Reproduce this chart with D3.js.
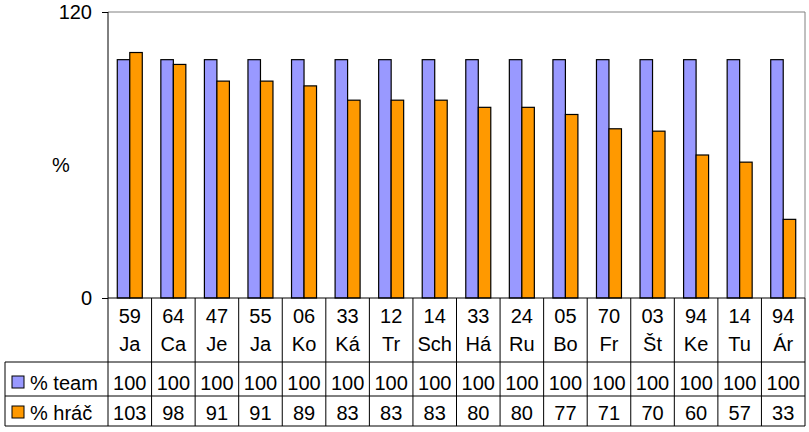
<!DOCTYPE html>
<html>
<head>
<meta charset="utf-8">
<script src="https://cdn.jsdelivr.net/npm/d3@7"></script>
<style>
  body { margin: 0; background: #fff; }
  svg { display: block; font-family: 'Liberation Sans', Arial, sans-serif; }
</style>
</head>
<body>
<svg width="809" height="432"></svg>
<script>
const numbers = ['59', '64', '47', '55', '06', '33', '12', '14', '33', '24', '05', '70', '03', '94', '14', '94'];
const names = ['Ja', 'Ca', 'Je', 'Ja', 'Ko', 'Ká', 'Tr', 'Sch', 'Há', 'Ru', 'Bo', 'Fr', 'Št', 'Ke', 'Tu', 'Ár'];
const teamValues = [100, 100, 100, 100, 100, 100, 100, 100, 100, 100, 100, 100, 100, 100, 100, 100];
const playerValues = [103, 98, 91, 91, 89, 83, 83, 83, 80, 80, 77, 71, 70, 60, 57, 33];
const seriesNames = ['% team', '% hráč'];
const seriesColors = ['#9999ff', '#ff9900'];
const yTicks = [0, 120];

const categories = numbers.map((n, i) => i);
const series = [teamValues, playerValues];

const plotLeft = 108, plotRight = 805, plotTop = 12, plotBottom = 298;
const tableLeft = 5;
const catRowBottom = 362;
const rowBottoms = [396, 426];

const svg = d3.select('svg');

const xScale = d3.scaleBand().domain(categories).range([plotLeft, plotRight]);
const inner = d3.scaleBand().domain([0, 1]).range([0, 25]);
const yScale = d3.scaleLinear().domain([0, 120]).range([plotBottom, plotTop]);

// frame: gray top and right
svg.append('line').attr('x1', plotLeft).attr('x2', plotRight).attr('y1', plotTop).attr('y2', plotTop)
  .attr('stroke', '#808080');
svg.append('line').attr('x1', plotRight).attr('x2', plotRight).attr('y1', plotTop).attr('y2', plotBottom)
  .attr('stroke', '#808080');

// bars
series.forEach((vals, s) => {
  svg.append('g')
    .selectAll('rect')
    .data(vals)
    .enter()
    .append('rect')
    .attr('x', (d, i) => xScale(i) + (xScale.bandwidth() - 25) / 2 + inner(s))
    .attr('y', (d) => yScale(d))
    .attr('width', inner.bandwidth())
    .attr('height', (d) => plotBottom - yScale(d))
    .attr('fill', seriesColors[s])
    .attr('stroke', '#000')
    .attr('stroke-width', 1.2);
});

// y axis
const yAxis = d3.axisLeft(yScale).tickValues(yTicks).tickSize(6).tickPadding(10);
const ya = svg.append('g').attr('transform', `translate(${plotLeft},0)`).call(yAxis);
ya.select('.domain').remove();
ya.selectAll('.tick line').attr('stroke', '#000');
ya.selectAll('.tick text').attr('font-size', 20).attr('font-family', 'Liberation Sans, Arial, sans-serif')
  .attr('fill', '#000');
svg.append('line').attr('x1', plotLeft).attr('x2', plotLeft).attr('y1', plotTop).attr('y2', rowBottoms[1])
  .attr('stroke', '#000');
svg.append('line').attr('x1', plotLeft).attr('x2', plotRight).attr('y1', plotBottom).attr('y2', plotBottom)
  .attr('stroke', '#000');

svg.append('text').attr('x', 61).attr('y', 172).attr('text-anchor', 'middle')
  .attr('font-size', 20).text('%');

// data table
const grid = svg.append('g').attr('stroke', '#000').attr('stroke-width', 1);
xScale.domain().forEach((c) => {
  const x = xScale(c) + xScale.bandwidth();
  grid.append('line').attr('x1', x).attr('x2', x).attr('y1', plotBottom).attr('y2', rowBottoms[1]);
});
grid.append('line').attr('x1', tableLeft).attr('x2', plotRight).attr('y1', catRowBottom).attr('y2', catRowBottom);
rowBottoms.forEach((y) => {
  grid.append('line').attr('x1', tableLeft).attr('x2', plotRight).attr('y1', y).attr('y2', y);
});
grid.append('line').attr('x1', tableLeft).attr('x2', tableLeft).attr('y1', catRowBottom).attr('y2', rowBottoms[1]);

const labels = svg.append('g').attr('font-size', 20).attr('fill', '#000').attr('text-anchor', 'middle');
categories.forEach((c) => {
  const cx = xScale(c) + xScale.bandwidth() / 2;
  labels.append('text').attr('x', cx).attr('y', 323).text(numbers[c]);
  labels.append('text').attr('x', cx).attr('y', 351).text(names[c]);
});

const rowBaselines = [390, 420];
series.forEach((vals, s) => {
  vals.forEach((v, i) => {
    labels.append('text')
      .attr('x', xScale(i) + xScale.bandwidth() / 2)
      .attr('y', rowBaselines[s])
      .text(v);
  });
  svg.append('rect')
    .attr('x', 12).attr('y', rowBaselines[s] - 14)
    .attr('width', 12).attr('height', 12)
    .attr('fill', seriesColors[s]).attr('stroke', '#000');
  svg.append('text')
    .attr('x', 30).attr('y', rowBaselines[s])
    .attr('font-size', 20)
    .text(seriesNames[s]);
});
</script>
</body>
</html>
